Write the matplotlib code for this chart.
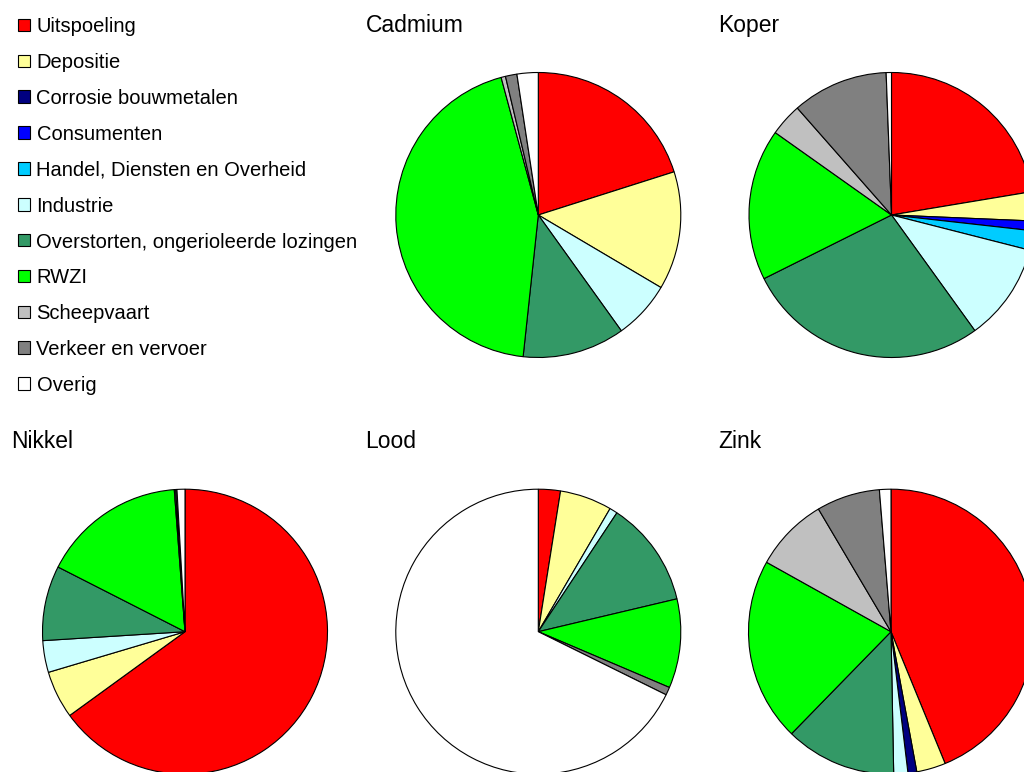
import matplotlib
matplotlib.use("Agg")
import matplotlib.pyplot as plt
from matplotlib.patches import Rectangle

plt.rcParams['font.family'] = ['Liberation Sans', 'DejaVu Sans']

categories = ["Uitspoeling", "Depositie", "Corrosie bouwmetalen", "Consumenten",
              "Handel, Diensten en Overheid", "Industrie",
              "Overstorten, ongerioleerde lozingen", "RWZI", "Scheepvaart",
              "Verkeer en vervoer", "Overig"]
colors = ["#FF0000", "#FFFF99", "#000080", "#0000FF", "#00CCFF", "#CCFFFF",
          "#339966", "#00FF00", "#C0C0C0", "#808080", "#FFFFFF"]

metals = ["Cadmium", "Koper", "Nikkel", "Lood", "Zink"]
cadmium = [20.1, 13.4, 0.0, 0.0, 0.0, 6.6, 11.6, 44.1, 0.5, 1.3, 2.4]
koper = [22.4, 3.3, 0.0, 1.1, 2.2, 11.1, 27.6, 17.2, 3.7, 10.9, 0.6]
nikkel = [65.0, 5.4, 0.0, 0.0, 0.0, 3.6, 8.5, 16.3, 0.15, 0.15, 0.9]
lood = [2.5, 5.9, 0.0, 0.0, 0.0, 0.9, 12.0, 10.1, 0.0, 0.9, 67.7]
zink = [43.8, 3.3, 1.0, 0.0, 0.0, 1.6, 12.6, 20.8, 8.4, 7.2, 1.3]
series = [cadmium, koper, nikkel, lood, zink]

W, H = 1024, 772
fig = plt.figure(figsize=(W / 100, H / 100), dpi=100)
ax = fig.add_axes([0, 0, 1, 1])

def Y(y):
    return H - y

# pie layout (pixel coords, top-left origin)
centers = [(538.3, 215.0), (891.5, 215.0), (185.0, 631.7), (538.3, 631.7), (891.0, 631.7)]
title_pos = [(366, 32.3), (718, 32.3), (11.5, 447.7), (365, 447.7), (718, 447.7)]
R = 142.5

for name, vals, (cx, cy), (tx, ty) in zip(metals, series, centers, title_pos):
    v = [x for x in vals if x > 0]
    c = [col for x, col in zip(vals, colors) if x > 0]
    ax.pie(v, colors=c, startangle=90, counterclock=False, radius=R,
           center=(cx, Y(cy)), frame=True,
           wedgeprops=dict(edgecolor="black", linewidth=0.8))
    ax.text(tx, Y(ty), name, fontsize=16.5, ha="left", va="baseline", color="black")

# legend
leg_y0, leg_dy = 25.0, 35.85
for i, (lab, col) in enumerate(zip(categories, colors)):
    yc = leg_y0 + i * leg_dy
    ax.add_patch(Rectangle((17.5, Y(yc + 6.3)), 12.6, 12.6, facecolor=col,
                           edgecolor="black", linewidth=0.8))
    ax.text(36.5, Y(yc), lab, fontsize=14.5, ha="left", va="center_baseline", color="black")

ax.set_xlim(0, W)
ax.set_ylim(0, H)
ax.set_aspect("equal")
ax.axis("off")

fig.savefig("out.png", dpi=100)
